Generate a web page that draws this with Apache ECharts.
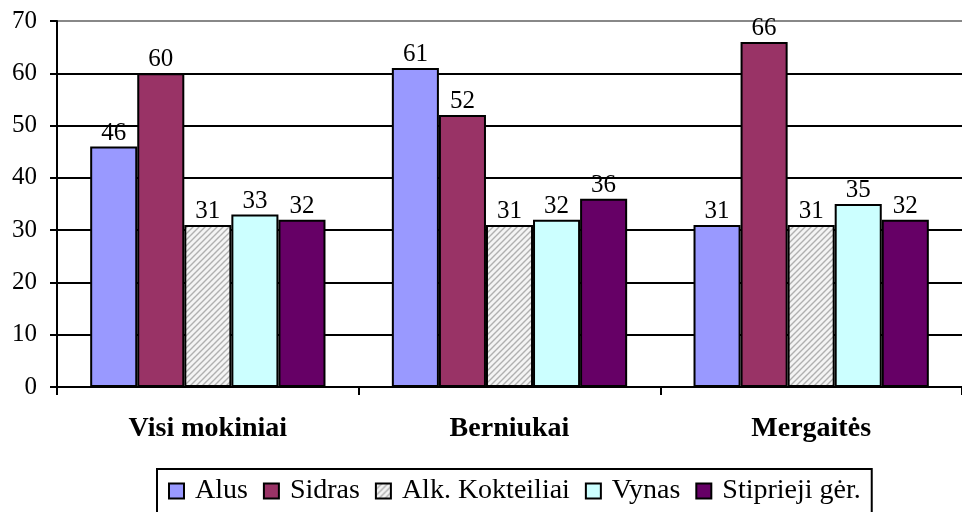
<!DOCTYPE html>
<html>
<head>
<meta charset="utf-8">
<script src="https://cdn.jsdelivr.net/npm/echarts@6/dist/echarts.min.js"></script>
<style>
  html, body { margin: 0; padding: 0; background: #fff; }
  #main { width: 962px; height: 512px; }
</style>
</head>
<body>
<div id="main"></div>
<script>
// duomenys
const categories = ["Visi mokiniai", "Berniukai", "Mergaitės"];
const seriesNames = ["Alus", "Sidras", "Alk. Kokteiliai", "Vynas", "Stiprieji gėr."];
const alus = [46, 61, 31];
const sidras = [60, 52, 66];
const kokteiliai = [31, 31, 31];
const vynas = [33, 32, 35];
const stiprieji = [32, 36, 32];
const yTicks = [0, 10, 20, 30, 40, 50, 60, 70];

// užbrūkšniuotas raštas kokteiliams
function makeHatch() {
  const c = document.createElement("canvas");
  c.width = 6;
  c.height = 6;
  const ctx = c.getContext("2d");
  ctx.fillStyle = "#f4f4f4";
  ctx.fillRect(0, 0, 6, 6);
  ctx.strokeStyle = "#b0b0b0";
  ctx.lineWidth = 1.4;
  ctx.beginPath();
  ctx.moveTo(-1, 7);
  ctx.lineTo(7, -1);
  ctx.moveTo(-1, 1);
  ctx.lineTo(1, -1);
  ctx.moveTo(5, 7);
  ctx.lineTo(7, 5);
  ctx.stroke();
  return c;
}

const font = "'Liberation Serif', serif";
const colors = ["#9999FF", "#993366", { image: makeHatch(), repeat: "repeat" }, "#CCFFFF", "#660066"];
const values = [alus, sidras, kokteiliai, vynas, stiprieji];

const option = {
  animation: false,
  textStyle: { fontFamily: font, color: "#000" },
  grid: { left: 57, top: 21, right: -10, bottom: 125 },
  legend: {
    left: 157,
    top: 469,
    padding: [8, 11, 20, 11],
    itemGap: 15,
    itemWidth: 15,
    itemHeight: 15,
    borderColor: "#000",
    borderWidth: 2,
    borderRadius: 0,
    icon: "rect",
    textStyle: { fontFamily: font, fontSize: 28, color: "#000", padding: [0, 0, 0, 6] },
    data: seriesNames,
  },
  xAxis: {
    type: "category",
    data: categories,
    axisLine: { lineStyle: { color: "#000", width: 2 } },
    axisTick: { show: true, length: 8, lineStyle: { color: "#000", width: 2 } },
    axisLabel: { fontFamily: font, fontSize: 28, fontWeight: "bold", color: "#000", margin: 28 },
  },
  yAxis: {
    type: "value",
    min: yTicks[0],
    max: yTicks[yTicks.length - 1],
    interval: 10,
    axisLine: { show: true, lineStyle: { color: "#000", width: 2 } },
    axisTick: { show: true, length: 7, lineStyle: { color: "#000", width: 2 } },
    axisLabel: { fontFamily: font, fontSize: 25, color: "#000", margin: 20 },
    splitLine: {
      show: true,
      lineStyle: { color: ["#000", "#000", "#000", "#000", "#000", "#000", "#000", "#888"], width: 2 },
    },
  },
  series: seriesNames.map((name, i) => ({
    name: name,
    type: "bar",
    data: values[i],
    barGap: "0%",
    barCategoryGap: "22%",
    itemStyle: { color: colors[i], borderColor: "#000", borderWidth: 2 },
    label: {
      show: true,
      position: "top",
      distance: 1,
      fontFamily: font,
      fontSize: 25,
      color: "#000",
    },
  })),
};

const myChart = echarts.init(document.getElementById("main"));
myChart.setOption(option);
</script>
</body>
</html>
